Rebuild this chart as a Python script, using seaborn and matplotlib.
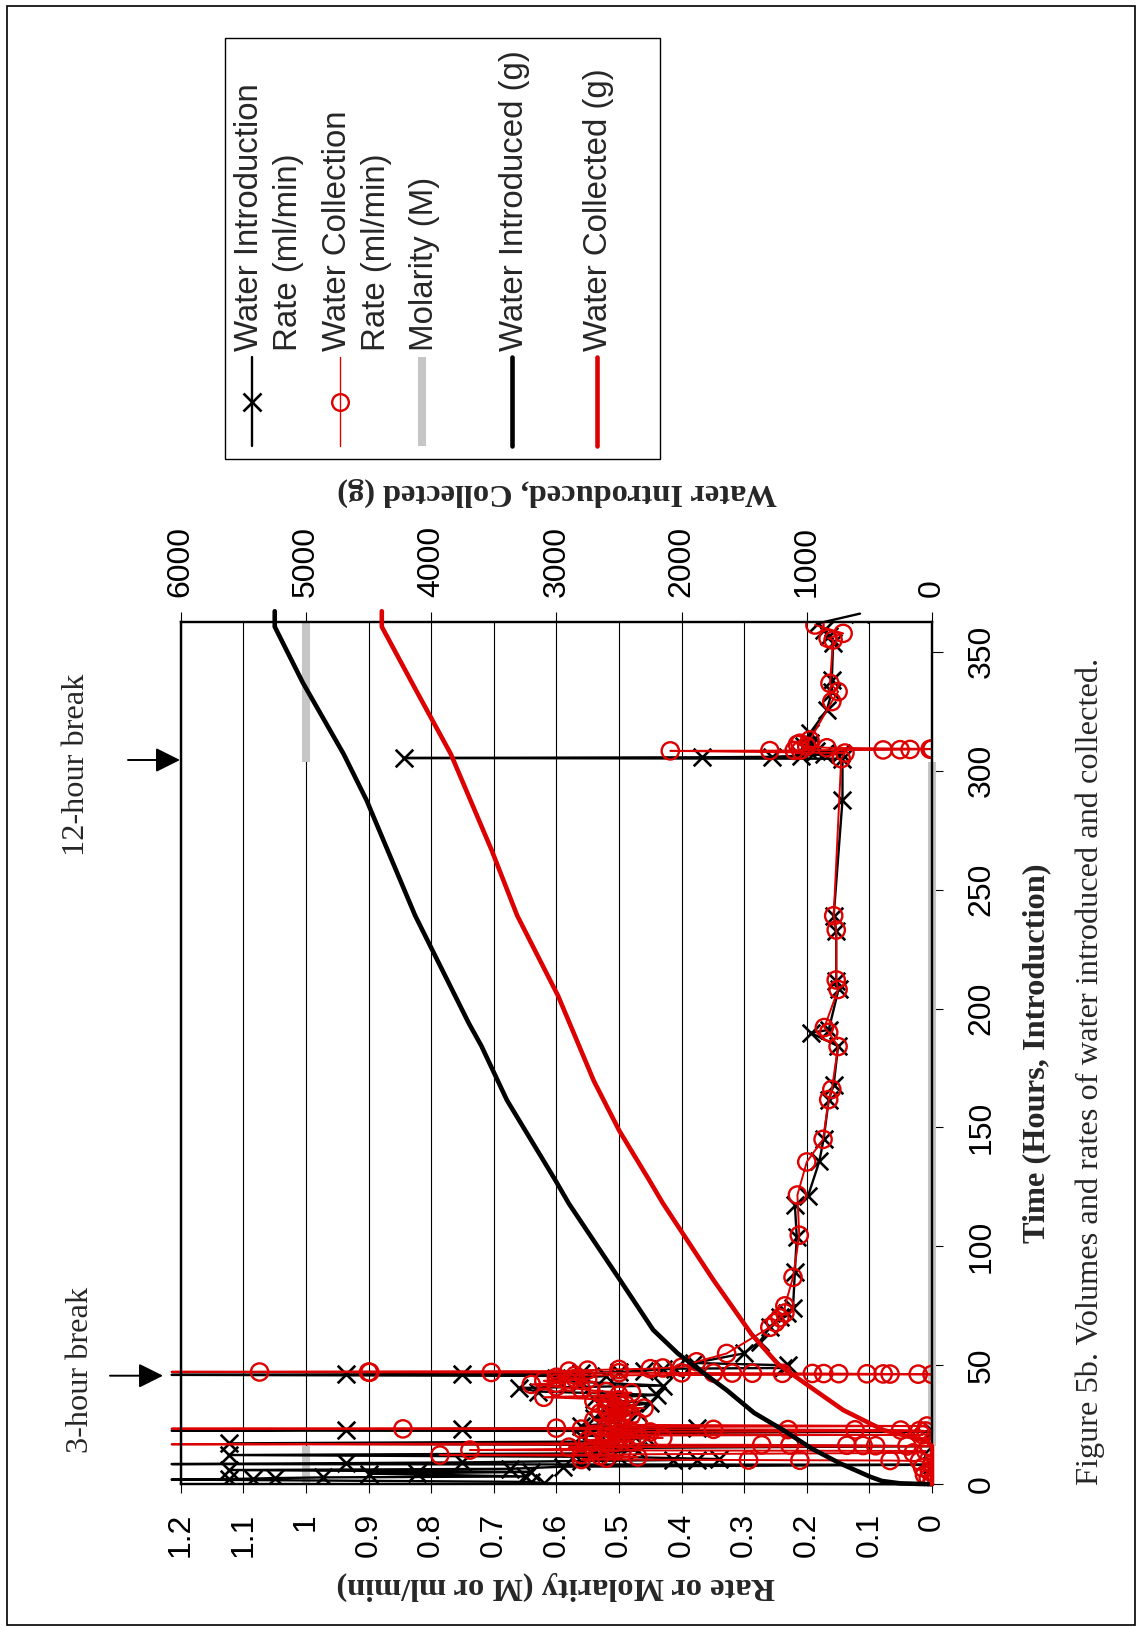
import matplotlib
matplotlib.use("Agg")
import matplotlib.pyplot as plt
import seaborn as sns
import pandas as pd
from matplotlib.lines import Line2D
from matplotlib.patches import Rectangle, FancyArrowPatch

# ---------------- data (time in hours, rate in ml/min or M, water in g) ----------------
intro_rate_pts = [
    (0.0, 0.000), (0.4, 0.620), (1.0, 0.640), (2.0, 1.2145), (2.2, 1.123), (2.4, 1.085),
    (2.6, 1.050), (2.9, 0.972), (3.3, 0.650), (4.5, 0.900), (4.7, 0.823), (5.2, 0.640),
    (6.0, 1.123), (6.5, 0.674), (7.4, 0.590), (8.2, 0.000), (8.5, 1.2145), (8.9, 0.936),
    (9.2, 0.750), (9.8, 0.560), (10.2, 0.413), (10.4, 0.376), (10.6, 0.340), (11.5, 0.500),
    (12.3, 1.123), (13.0, 0.540), (14.2, 0.470), (15.2, 0.560), (16.0, 0.000), (17.2, 1.123),
    (18.0, 0.520), (19.5, 0.455), (20.5, 0.560), (21.5, 0.480), (22.3, 0.000), (22.6, 1.2145),
    (23.0, 0.936), (23.4, 0.750), (23.7, 0.376), (24.5, 0.560), (26.0, 0.500), (28.0, 0.540),
    (30.0, 0.470), (32.0, 0.520), (34.0, 0.450), (36.0, 0.540), (37.6, 0.440), (39.0, 0.630),
    (40.5, 0.660), (41.5, 0.430), (43.0, 0.560), (44.5, 0.600), (45.5, 0.520), (46.0, 1.2145),
    (46.2, 0.936), (46.4, 0.750), (46.7, 0.560), (47.2, 0.500), (47.8, 0.460), (48.3, 0.430),
    (48.6, 0.410), (48.9, 0.238), (50.0, 0.230), (51.0, 0.380), (55.0, 0.301), (60.0, 0.275),
    (66.2, 0.259), (70.4, 0.243), (72.0, 0.232), (74.1, 0.222), (89.4, 0.219), (104.0, 0.216),
    (117.4, 0.219), (121.2, 0.198), (135.7, 0.180), (145.3, 0.173), (161.5, 0.165), (168.0, 0.157),
    (184.2, 0.150), (189.8, 0.194), (191.0, 0.165), (208.4, 0.149), (211.6, 0.153), (232.7, 0.153),
    (239.0, 0.157), (287.5, 0.143), (305.0, 0.143), (305.3, 0.844), (305.6, 0.368), (305.8, 0.256),
    (306.3, 0.210), (306.8, 0.172), (307.3, 0.145), (308.3, 0.185), (309.0, 0.200), (310.5, 0.205),
    (311.5, 0.195), (315.8, 0.195), (325.5, 0.168), (333.0, 0.160), (338.0, 0.160), (353.5, 0.158),
    (356.5, 0.165), (359.0, 0.172), (361.9, 0.182), (366.0, 0.115),
]

collect_rate_pts = [
    (0.0, 0.000), (1.0, 0.000), (2.5, 0.006), (4.0, 0.012), (5.5, 0.004), (7.0, 0.015),
    (8.5, 0.000), (9.8, 0.020), (10.0, 0.067), (10.1, 0.211), (10.2, 0.293), (10.4, 0.560),
    (11.0, 0.520), (11.5, 0.470), (12.0, 0.530), (12.3, 0.786), (12.5, 0.560), (13.2, 0.030),
    (14.0, 0.010), (14.4, 0.738), (15.0, 0.540), (15.6, 0.580), (16.0, 0.005), (16.1, 0.040),
    (16.2, 0.090), (16.3, 0.110), (16.4, 0.136), (16.5, 0.227), (16.6, 0.272), (16.8, 1.2145),
    (17.2, 0.520), (17.6, 0.505), (17.8, 0.540), (18.0, 0.480), (18.5, 0.550), (19.0, 0.500),
    (19.2, 0.515), (19.3, 0.490), (19.5, 0.430), (20.0, 0.520), (20.5, 0.470), (20.8, 0.015),
    (21.0, 0.540), (21.5, 0.500), (21.7, 0.520), (22.0, 0.450), (22.4, 0.010), (22.6, 0.020),
    (22.8, 0.050), (22.9, 0.123), (23.0, 0.230), (23.1, 0.349), (23.2, 0.560), (23.3, 0.845),
    (23.4, 1.2145), (23.6, 0.600), (24.0, 0.520), (24.5, 0.008), (25.0, 0.500), (26.0, 0.470),
    (26.5, 0.505), (27.0, 0.540), (28.0, 0.510), (28.5, 0.495), (29.0, 0.480), (29.5, 0.515),
    (30.0, 0.530), (30.5, 0.490), (31.0, 0.500), (31.5, 0.520), (32.0, 0.460), (32.5, 0.505),
    (33.0, 0.520), (33.5, 0.490), (34.0, 0.500), (34.5, 0.515), (35.0, 0.540), (35.5, 0.500),
    (36.6, 0.620), (37.5, 0.500), (38.5, 0.480), (39.0, 0.520), (39.5, 0.545), (40.0, 0.560),
    (41.0, 0.600), (42.0, 0.640), (42.5, 0.600), (43.0, 0.580), (43.5, 0.620), (44.0, 0.550),
    (44.5, 0.570), (45.0, 0.600), (45.8, 0.570), (46.2, 0.000), (46.3, 0.022), (46.35, 0.067),
    (46.4, 0.078), (46.45, 0.104), (46.5, 0.149), (46.55, 0.173), (46.6, 0.191), (46.65, 0.239),
    (46.7, 0.287), (46.75, 0.319), (46.8, 0.349), (46.85, 0.400), (46.9, 0.500), (47.0, 0.704),
    (47.1, 0.898), (47.15, 0.900), (47.2, 1.074), (47.3, 1.2145), (47.6, 0.580), (48.0, 0.550),
    (48.3, 0.500), (48.6, 0.450), (48.9, 0.430), (49.2, 0.400), (51.5, 0.376), (55.0, 0.328),
    (66.0, 0.259), (68.0, 0.250), (70.0, 0.243), (72.0, 0.235), (75.0, 0.235), (87.0, 0.222),
    (104.7, 0.212), (121.6, 0.215), (135.5, 0.200), (145.0, 0.174), (161.7, 0.165), (166.0, 0.160),
    (184.0, 0.150), (190.0, 0.165), (192.0, 0.172), (208.0, 0.150), (212.0, 0.153), (233.0, 0.153),
    (239.0, 0.157), (305.0, 0.145), (307.4, 0.139), (308.3, 0.418), (308.4, 0.259), (308.5, 0.220),
    (308.6, 0.210), (308.7, 0.078), (308.8, 0.051), (308.9, 0.035), (309.0, 0.003), (309.1, 0.000),
    (309.6, 0.168), (310.2, 0.200), (311.0, 0.215), (311.5, 0.211), (312.9, 0.195), (329.0, 0.160),
    (333.2, 0.150), (336.7, 0.163), (354.9, 0.158), (355.6, 0.166), (357.7, 0.142), (361.2, 0.187),
]

# molarity is drawn as separate segments (gaps between them)
molarity_pts = [
    (0, 0.0, 1.0), (0, 16.0, 1.0),
    (1, 16.3, 0.0), (1, 303.5, 0.0),
    (2, 40.5, 0.5), (2, 45.2, 0.5),
    (3, 303.7, 1.0), (3, 362.6, 1.0),
]

water_introduced_pts = [
    (0.0, 0), (0.4, 256), (1.4, 400), (3.2, 495), (8.8, 735), (15.0, 960), (22.8, 1188),
    (30.0, 1420), (39.6, 1640), (47.0, 1830), (55.0, 2030), (64.9, 2227), (86.0, 2493),
    (118.0, 2900), (128.0, 3010), (161.5, 3395), (184.2, 3598), (193.9, 3700), (239.1, 4128),
    (287.6, 4516), (307.0, 4699), (337.0, 5025), (360.5, 5249), (367.0, 5249),
]

water_collected_pts = [
    (0.0, 0), (16.0, 0), (17.5, 30), (18.6, 70), (22.8, 389), (31.2, 709), (41.0, 975),
    (50.5, 1230), (63.0, 1440), (86.0, 1747), (118.2, 2150), (128.0, 2260), (148.6, 2497),
    (169.6, 2701), (205.3, 2986), (239.1, 3313), (266.6, 3517), (307.0, 3843), (334.5, 4128),
    (360.5, 4394), (367.0, 4394),
]

rate_ticks = [0, 0.1, 0.2, 0.3, 0.4, 0.5, 0.6, 0.7, 0.8, 0.9, 1.0, 1.1, 1.2]
rate_labels = ["0", "0.1", "0.2", "0.3", "0.4", "0.5", "0.6", "0.7", "0.8", "0.9", "1", "1.1", "1.2"]
water_ticks = [0, 1000, 2000, 3000, 4000, 5000, 6000]
time_ticks = [0, 50, 100, 150, 200, 250, 300, 350]

legend_entries = [
    ["Water Introduction", "Rate (ml/min)"],
    ["Water Collection", "Rate (ml/min)"],
    ["Molarity (M)"],
    ["Water Introduced (g)"],
    ["Water Collected (g)"],
]

# ---------------- style ----------------
sns.set_theme(style="white")
plt.rcParams["font.family"] = ["Liberation Sans", "DejaVu Sans"]
SERIF = ["Liberation Serif", "DejaVu Serif"]
RED = "#dd0000"
GRAY = "#c6c6c6"
TICK_FS = 23
LEG_FS = 23.8
SERIF_FS = 23.3

W, H = 1138, 1627
fig = plt.figure(figsize=(W / 100, H / 100), dpi=100)
fig.patch.set_facecolor("white")


def fx(px):
    return px / W


def fy(py):
    return 1 - py / H


L, R, T, B = 180.7, 932.0, 621.7, 1484.3
ax = fig.add_axes([fx(L), fy(B), (R - L) / W, (B - T) / H])
ax.set_facecolor("white")

df_in = pd.DataFrame(intro_rate_pts, columns=["t", "rate"])
df_co = pd.DataFrame(collect_rate_pts, columns=["t", "rate"])
df_mo = pd.DataFrame(molarity_pts, columns=["seg", "t", "rate"])
df_wi = pd.DataFrame(water_introduced_pts, columns=["t", "g"])
df_wc = pd.DataFrame(water_collected_pts, columns=["t", "g"])

# molarity (bottom layer)
sns.lineplot(data=df_mo, x="rate", y="t", units="seg", sort=False, estimator=None,
             color=GRAY, lw=5.8, ax=ax, zorder=2, solid_capstyle="butt", clip_on=False)
# water introduction rate
sns.lineplot(data=df_in, x="rate", y="t", sort=False, estimator=None, color="black",
             lw=1.7, ax=ax, zorder=3, clip_on=False)
sns.scatterplot(data=df_in[df_in["rate"] <= 1.2], x="rate", y="t", marker="x", color="black",
                s=160, linewidth=1.9, ax=ax, zorder=4)
# water collection rate
sns.lineplot(data=df_co, x="rate", y="t", sort=False, estimator=None, color=RED,
             lw=1.4, ax=ax, zorder=5, clip_on=False)
sns.scatterplot(data=df_co[df_co["rate"] <= 1.2], x="rate", y="t", marker="o", color=RED,
                facecolors="none", edgecolor=RED, s=155, linewidth=1.7, ax=ax, zorder=6)

ax.set_xlim(1.2, 0)
ax.set_ylim(0, 362.6)
ax.set_xticks(rate_ticks)
ax.set_xticklabels(rate_labels)
ax.set_yticks(time_ticks)
ax.set_yticklabels([str(t) for t in time_ticks])
ax.set_xlabel("")
ax.set_ylabel("")
ax.grid(True, axis="x", color="black", lw=0.8)
ax.grid(False, axis="y")
ax.set_axisbelow(True)
ax.yaxis.tick_right()
ax.tick_params(axis="x", bottom=True, top=False, direction="out", length=6.5, width=0.8,
               pad=14, labelsize=TICK_FS, labelrotation=90, colors="black")
ax.tick_params(axis="y", left=False, right=True, labelleft=False, labelright=True,
               direction="out", length=8, width=0.8, pad=17, labelsize=TICK_FS,
               labelrotation=90, colors="black")
for lab in ax.get_yticklabels():
    lab.set_va("center")
for sp in ax.spines.values():
    sp.set_color("black")
    sp.set_linewidth(1.6)

# secondary (water, g) axis on top
ax2 = ax.twiny()
sns.lineplot(data=df_wi, x="g", y="t", sort=False, estimator=None, color="black",
             lw=3.3, ax=ax2, zorder=7, clip_on=False)
sns.lineplot(data=df_wc, x="g", y="t", sort=False, estimator=None, color=RED,
             lw=3.3, ax=ax2, zorder=8, clip_on=False)
ax2.set_xlim(6000, 0)
ax2.set_ylim(0, 362.6)
ax2.set_xticks(water_ticks)
ax2.set_xticklabels([str(v) for v in water_ticks])
ax2.set_xlabel("")
ax2.set_ylabel("")
ax2.tick_params(axis="x", top=True, bottom=False, labeltop=True, labelbottom=False,
                direction="out", length=7, width=0.8, pad=10.5, labelsize=TICK_FS,
                labelrotation=90, colors="black")
ax2.yaxis.set_visible(False)
for sp in ax2.spines.values():
    sp.set_color("black")
    sp.set_linewidth(1.6)

# ---------------- axis titles ----------------
fig.text(fx(1037), fy(1053), "Time (Hours, Introduction)", rotation=90, ha="center",
         va="center", family=SERIF, fontweight="bold", fontsize=SERIF_FS)
fig.text(fx(556), fy(1586), "Rate or Molarity (M or ml/min)", rotation=180, ha="center",
         va="center", family=SERIF, fontweight="bold", fontsize=SERIF_FS)
fig.text(fx(557), fy(492), "Water Introduced, Collected (g)", rotation=180, ha="center",
         va="center", family=SERIF, fontweight="bold", fontsize=SERIF_FS)
fig.text(fx(1090), fy(1485), "Figure 5b. Volumes and rates of water introduced and collected.",
         rotation=90, ha="center", va="bottom", family=SERIF, fontsize=SERIF_FS)

# ---------------- annotations ----------------
fig.text(fx(80), fy(1370), "3-hour break", rotation=90, ha="center", va="center",
         family=SERIF, fontsize=SERIF_FS)
fig.text(fx(77), fy(765), "12-hour break", rotation=90, ha="center", va="center",
         family=SERIF, fontsize=SERIF_FS)
arrow_kw = dict(arrowstyle="-|>,head_length=0.6,head_width=0.3", color="black", lw=1.4,
                mutation_scale=25, shrinkA=0, shrinkB=0)
fig.add_artist(FancyArrowPatch((fx(110), fy(1375.7)), (fx(163), fy(1375.7)),
                               transform=fig.transFigure, **arrow_kw))
fig.add_artist(FancyArrowPatch((fx(128), fy(760)), (fx(180), fy(760)),
                               transform=fig.transFigure, **arrow_kw))

# ---------------- legend (rotated, drawn by hand) ----------------
fig.add_artist(Rectangle((fx(225), fy(459)), (660 - 225) / W, (459 - 38) / H,
                         transform=fig.transFigure, facecolor="white", edgecolor="black",
                         lw=1.0, zorder=10))
handle_x = [252, 339.6, 422, 511.6, 596.5]
text_x = [[250, 289], [337.5, 377], [424.5], [515], [598.7]]
y_top, y_bot, y_mark = 357, 446, 402
handle_styles = [
    dict(color="black", lw=1.7),
    dict(color=RED, lw=1.0),
    dict(color=GRAY, lw=5.8, solid_capstyle="butt"),
    dict(color="black", lw=3.3),
    dict(color=RED, lw=3.3),
]
for i, st in enumerate(handle_styles):
    fig.add_artist(Line2D([fx(handle_x[i])] * 2, [fy(y_top), fy(y_bot)],
                          transform=fig.transFigure, zorder=11, **st))
fig.add_artist(Line2D([fx(handle_x[0])], [fy(y_mark)], marker="x", markersize=12.5,
                      markeredgewidth=1.9, color="black", transform=fig.transFigure, zorder=12))
fig.add_artist(Line2D([fx(handle_x[1])], [fy(y_mark)], marker="o", markersize=12,
                      markeredgewidth=1.7, markerfacecolor="none", markeredgecolor=RED,
                      color=RED, transform=fig.transFigure, zorder=12))
for lines, xs in zip(legend_entries, text_x):
    for txt, x in zip(lines, xs):
        fig.text(fx(x), fy(351), txt, rotation=90, ha="center", va="bottom",
                 fontsize=LEG_FS, zorder=12)

# page border
fig.add_artist(Rectangle((fx(7), fy(1625)), (1135 - 7) / W, (1625 - 6) / H,
                         transform=fig.transFigure, fill=False, edgecolor="black", lw=1.2))

fig.savefig("out.png", dpi=100)
